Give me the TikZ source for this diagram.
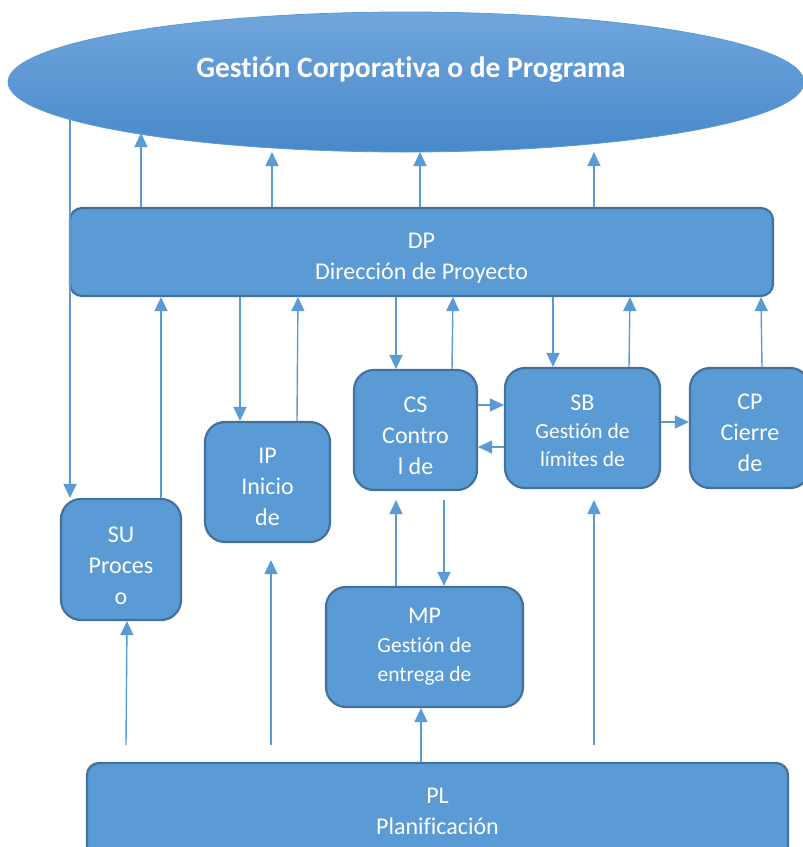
\documentclass[tikz,border=0pt]{standalone}
\usepackage{fontspec}
\setmainfont{Carlito}[Ligatures=NoCommon]
\usetikzlibrary{arrows.meta,shapes.geometric}
\definecolor{boxfill}{HTML}{5B9BD5}
\definecolor{boxline}{HTML}{41719C}
\definecolor{elltop}{HTML}{70A6DC}
\definecolor{ellbot}{HTML}{4889CA}
\tikzset{
  pbox/.style={draw=boxline, line width=2.2pt, fill=boxfill, rounded corners=#1,
    text=white, align=center, inner sep=0pt,
    font=\fontsize{24}{31}\selectfont},
  pbox/.default=20pt,
  arr/.style={draw=boxfill, line width=1.4pt,
    -{Triangle[length=14pt,width=13pt]}, shorten >=0pt},
}
\begin{document}
\begin{tikzpicture}[x=1pt,y=-1pt]
\useasboundingbox (0,0) rectangle (803,847);
\clip (0,0) rectangle (803,847);
% ellipse
\node[ellipse, minimum width=796pt, minimum height=140pt, inner sep=0pt,
  top color=elltop, bottom color=ellbot, draw=boxfill, line width=0.8pt] (G) at (406,82) {};
\node[text=white, font=\fontsize{29.5}{32}\selectfont\bfseries] (Gt) at (411,70) {Gestión Corporativa o de Programa};
% boxes
\node[pbox=12pt, minimum width=703pt, minimum height=88pt, text depth=2pt] (DP) at (421.5,252)
  {\rule{0pt}{26pt}DP\\Dirección de Proyecto};
\node[pbox, minimum width=120pt, minimum height=121pt] (SU) at (121,559.5)
  {\rule{0pt}{28pt}SU\\Proces\\o};
\node[pbox, minimum width=125pt, minimum height=120pt] (IP) at (267.5,482)
  {\rule{0pt}{25pt}IP\\Inicio\\de};
\node[pbox, minimum width=123pt, minimum height=120pt] (CS) at (415.5,430)
  {\rule{0pt}{28pt}CS\\Contro\\l de};
\node[pbox, minimum width=155pt, minimum height=120pt,
  font=\fontsize{21.5}{28}\selectfont] (SB) at (582.5,428)
  {{\fontsize{24}{28}\selectfont\rule{0pt}{22pt}SB}\\Gestión de\\límites de};
\node[pbox, minimum width=120pt, minimum height=120pt] (CP) at (750,428)
  {\rule{0pt}{26pt}CP\\Cierre\\de};
\node[pbox, minimum width=197pt, minimum height=120pt,
  font=\fontsize{21.5}{29}\selectfont] (MP) at (424.5,647)
  {{\fontsize{24}{29}\selectfont MP}\\Gestión de\\entrega de};
\node[pbox=12pt, minimum width=701pt, minimum height=104pt, text depth=8pt] (PL) at (437.5,815)
  {PL\\Planificación};
% free ends
\coordinate (g1) at (141,133);
\coordinate (g2) at (272,152);
\coordinate (g3) at (420,152);
\coordinate (g4) at (594,152);
\coordinate (e0) at (70,117);
\coordinate (c1) at (396,500);
\coordinate (c2) at (444,500);
\coordinate (p1) at (126,745);
\coordinate (p2) at (271,745);
\coordinate (p2e) at (271,560);
\coordinate (p3) at (594,745);
\coordinate (p3e) at (594,500);
% DP -> ellipse
\draw[arr] (DP.north -| g1) -- (g1);
\draw[arr] (DP.north -| g2) -- (g2);
\draw[arr] (DP.north -| g3) -- (g3);
\draw[arr] (DP.north -| g4) -- (g4);
% ellipse -> SU
\draw[arr] (e0) -- (SU.north -| e0);
% SU, IP, CS, SB, CP <-> DP
\draw[arr] (SU.north -| 161,0) -- (DP.south -| 161,0);
\draw[arr] (DP.south -| 240,0) -- (IP.north -| 240,0);
\draw[arr] (IP.north -| 297,0) -- (DP.south -| 298,0);
\draw[arr] (DP.south -| c1) -- (CS.north -| c1);
\draw[arr] (CS.north -| 452,0) -- (DP.south -| 453,0);
\draw[arr] (DP.south -| 553,0) -- (SB.north -| 553,0);
\draw[arr] (SB.north -| 629,0) -- (DP.south -| 630,0);
\draw[arr] (CP.north -| 762,0) -- (DP.south -| 761,0);
% horizontal
\draw[arr] (CS.east |- 0,405) -- (SB.west |- 0,405);
\draw[arr] (SB.west |- 0,447) -- (CS.east |- 0,447);
\draw[arr] (SB.east |- 0,422) -- (CP.west |- 0,422);
% CS <-> MP
\draw[arr] (MP.north -| c1) -- (c1);
\draw[arr] (c2) -- (MP.north -| c2);
% PL -> MP
\draw[arr] (PL.north -| 421,0) -- (MP.south -| 421,0);
% free arrows from bottom
\draw[arr] (p1) -- (SU.south -| 127,0);
\draw[arr] (p2) -- (p2e);
\draw[arr] (p3) -- (p3e);
\end{tikzpicture}
\end{document}
